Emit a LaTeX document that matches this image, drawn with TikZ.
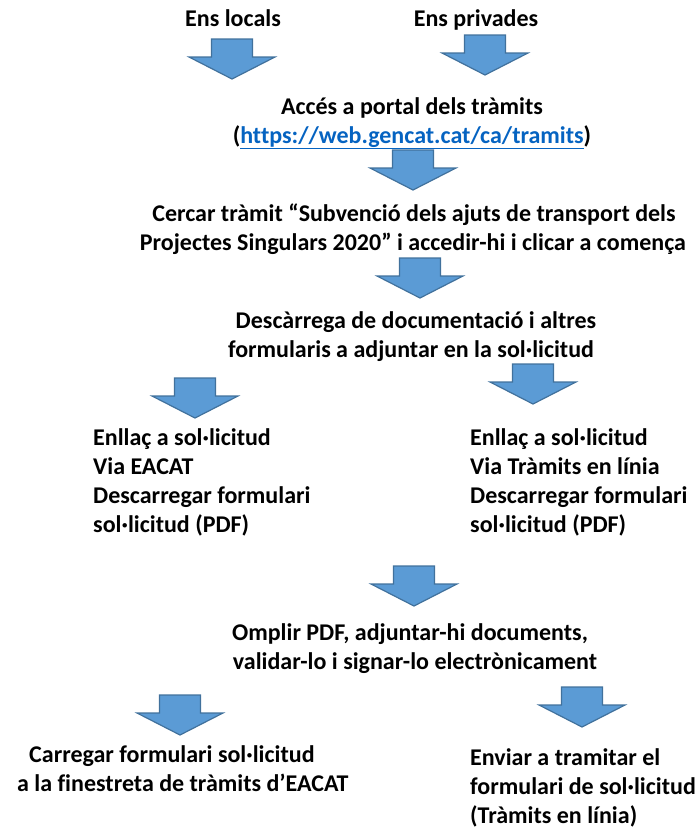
\documentclass[tikz,border=0pt]{standalone}
\usepackage{fontspec}
\setmainfont[Ligatures=NoCommon]{Carlito}
\definecolor{arrowfill}{HTML}{5B9BD5}
\definecolor{arrowline}{HTML}{41719C}
\definecolor{linkblue}{HTML}{0563C1}
\begin{document}
\begin{tikzpicture}[x=1pt,y=-1pt,
  txt/.style={inner sep=0pt,anchor=base,font=\fontsize{24}{29.3}\selectfont\bfseries},
  txtl/.style={txt,anchor=base west},
  blockarrow/.pic={\draw[fill=arrowfill,draw=arrowline,line width=1.2pt,line join=miter]
     (-20.5,0) -- (20.5,0) -- (20.5,18) -- (43,18) -- (0,40) -- (-43,18) -- (-20.5,18) -- cycle;}]
\useasboundingbox (0,0) rectangle (695,836);
% top labels
\node[txt] (e1) at (233,26) {Ens locals};
\node[txt] (e2) at (476,26) {Ens privades};
\pic (a1) at (232,39) {blockarrow};
\pic (a2) at (485,35) {blockarrow};
% portal
\node[txt] (p1) at (412,114) {Accés a portal dels tràmits};
\node[txt] (p2) at (412,143) {(\textcolor{linkblue}{\underline{https://web.gencat.cat/ca/tramits}})};
\pic (a3) at (413,150) {blockarrow};
% cercar
\node[txt] (c1) at (414,221) {Cercar tràmit “Subvenció dels ajuts de transport dels};
\node[txt] (c2) at (413,250) {Projectes Singulars 2020” i accedir-hi i clicar a comença};
\pic (a4) at (420,258) {blockarrow};
% descarrega
\node[txt] (d1) at (416,328) {Descàrrega de documentació i altres};
\node[txt] (d2) at (411,357) {formularis a adjuntar en la sol·licitud};
\pic (a5) at (195,378) {blockarrow};
\pic (a6) at (533,364) {blockarrow};
% columns
\node[txtl] (l1) at (93,445) {Enllaç a sol·licitud};
\node[txtl] (l2) at (93,474) {Via EACAT};
\node[txtl] (l3) at (93,503) {Descarregar formulari};
\node[txtl] (l4) at (93,532) {sol·licitud (PDF)};
\node[txtl] (r1) at (470,445) {Enllaç a sol·licitud};
\node[txtl] (r2) at (470,474) {Via Tràmits en línia};
\node[txtl] (r3) at (470,503) {Descarregar formulari};
\node[txtl] (r4) at (470,532) {sol·licitud (PDF)};
\pic (a7) at (414,566) {blockarrow};
% omplir
\node[txt] (o1) at (410,640) {Omplir PDF, adjuntar-hi documents,};
\node[txt] (o2) at (415,669) {validar-lo i signar-lo electrònicament};
\pic (a8) at (180,695) {blockarrow};
\pic (a9) at (582,687) {blockarrow};
% bottom
\node[txtl] (b1) at (29,762) {Carregar formulari sol·licitud};
\node[txtl] (b2) at (17,791) {a la finestreta de tràmits d’EACAT};
\node[txtl] (s1) at (470,765) {Enviar a tramitar el};
\node[txtl] (s2) at (470,794) {formulari de sol·licitud};
\node[txtl] (s3) at (470,823) {(Tràmits en línia)};
\end{tikzpicture}
\end{document}
